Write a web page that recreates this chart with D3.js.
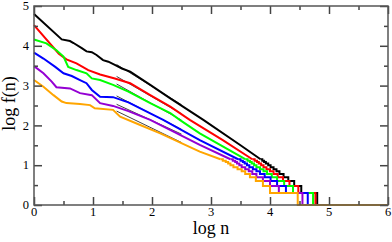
<!DOCTYPE html>
<meta charset="utf-8">
<script src="https://d3js.org/d3.v7.min.js"></script>
<style>
  body { margin: 0; background: #fff; }
  text { font-family: "Liberation Serif", serif; fill: #000; }
</style>
<div id="my_dataviz"></div>
<script>
// series colours (black, red, green, blue, violet, orange)
var colors = ["#000000", "#ff0000", "#00ff00", "#0000ff", "#9400d3", "#ffa500"];

// upper (smooth) part of each curve: [log n, log f(n)]
var headBlack  = [[0,4.80],[0.47,4.16],[0.61,4.12],[0.67,4.07],[0.81,3.94],[0.89,3.86],[0.98,3.84],[1.06,3.77],[1.17,3.64],[1.26,3.60],[1.37,3.52],[1.49,3.43],[1.63,3.35],[1.97,3.02],[2.31,2.68],[2.87,2.14],[3.50,1.50],[3.84,1.15]];
var headRed    = [[0,4.52],[0.42,3.80],[0.55,3.66],[0.72,3.56],[0.92,3.39],[1.12,3.28],[1.37,3.18],[1.63,3.06],[1.97,2.76],[2.31,2.47],[2.64,2.14],[3.20,1.63],[3.70,1.15]];
var headGreen  = [[0,4.16],[0.21,4.06],[0.38,3.89],[0.50,3.73],[0.58,3.47],[0.72,3.39],[0.89,3.31],[0.98,3.18],[1.12,3.14],[1.34,3.02],[1.60,2.85],[1.97,2.56],[2.31,2.31],[2.47,2.14],[2.81,1.80],[3.58,1.15]];
var headBlue   = [[0,3.83],[0.16,3.68],[0.36,3.47],[0.50,3.31],[0.64,3.24],[0.78,3.14],[0.89,3.06],[0.98,2.89],[1.12,2.72],[1.34,2.71],[1.60,2.58],[1.97,2.30],[2.19,2.14],[2.81,1.63],[3.46,1.15]];
var headViolet = [[0,3.49],[0.16,3.31],[0.30,3.10],[0.38,2.96],[0.61,2.93],[0.78,2.81],[0.98,2.76],[1.12,2.56],[1.34,2.49],[1.60,2.36],[1.97,2.14],[2.81,1.51],[3.33,1.15]];
var headOrange = [[0,3.14],[0.16,2.97],[0.33,2.76],[0.47,2.60],[0.55,2.56],[0.78,2.54],[0.95,2.51],[1.03,2.43],[1.34,2.39],[1.46,2.22],[1.80,2.01],[2.14,1.80],[2.81,1.34],[3.16,1.15]];

// staircase tail: levels of log f(n) and the log n where each level ends
var levels      = [1.15,1.11,1.08,1.04,1.00,0.95,0.90,0.85,0.78,0.70,0.60,0.48,0.30];
var dropsBlack  = [3.87,3.90,3.93,3.97,4.01,4.06,4.11,4.16,4.23,4.31,4.41,4.53,4.80];
var dropsRed    = [3.74,3.78,3.81,3.85,3.89,3.94,4.00,4.06,4.13,4.22,4.33,4.48,4.77];
var dropsGreen  = [3.62,3.66,3.69,3.73,3.77,3.83,3.89,3.95,4.03,4.12,4.24,4.39,4.73];
var dropsBlue   = [3.50,3.54,3.57,3.61,3.65,3.71,3.77,3.83,3.91,4.01,4.12,4.27,4.64];
var dropsViolet = [3.37,3.41,3.44,3.48,3.52,3.58,3.64,3.70,3.77,3.88,4.00,4.15,4.55];
var dropsOrange = [3.20,3.25,3.29,3.33,3.38,3.45,3.52,3.58,3.66,3.76,3.88,4.00,4.47];

// thin straight fit lines near the middle of each curve
var fits = [
  [[1.40,3.53],[2.50,2.52]],
  [[1.40,3.23],[2.50,2.29]],
  [[1.40,3.04],[2.50,2.13]],
  [[1.40,2.74],[2.50,1.90]],
  [[1.40,2.53],[2.50,1.78]],
  [[1.40,2.36],[2.50,1.57]]
];

var xTicks = [0,1,2,3,4,5,6];
var yTicks = [0,1,2,3,4,5];

var heads = [headBlack, headRed, headGreen, headBlue, headViolet, headOrange];
var drops = [dropsBlack, dropsRed, dropsGreen, dropsBlue, dropsViolet, dropsOrange];

var margin = {top: 6, right: 4, bottom: 37, left: 34},
    width = 392 - margin.left - margin.right,
    height = 242 - margin.top - margin.bottom;

var svg = d3.select("#my_dataviz")
  .append("svg")
    .attr("width", 392)
    .attr("height", 242)
  .append("g")
    .attr("transform", "translate(" + margin.left + "," + margin.top + ")");

var x = d3.scaleLinear().domain([0, 6]).range([0, width]);
var y = d3.scaleLinear().domain([0, 5]).range([height, 0]);

var lineLin = d3.line().x(function(d) { return x(d[0]) }).y(function(d) { return y(d[1]) });
var lineStep = d3.line().curve(d3.curveStepAfter)
  .x(function(d) { return x(d[0]) }).y(function(d) { return y(d[1]) });

// fit lines
fits.forEach(function(f) {
  svg.append("path").attr("d", lineLin(f))
    .attr("fill", "none").attr("stroke", "#444").attr("stroke-width", 1);
});

heads.forEach(function(h, i) {
  var last = h[h.length - 1];
  var tail = [[last[0], levels[0]]];
  drops[i].forEach(function(dx, k) {
    tail.push([dx, k + 1 < levels.length ? levels[k + 1] : 0]);
  });
  tail.push([6, 0]);
  svg.append("path").attr("d", lineLin(h))
    .attr("fill", "none").attr("stroke", colors[i]).attr("stroke-width", 2);
  svg.append("path").attr("d", lineStep(tail))
    .attr("fill", "none").attr("stroke", colors[i]).attr("stroke-width", 2);
});

// axes on all four sides, ticks inward
function styleAxis(g) {
  g.select(".domain").remove();
  g.selectAll("line").attr("stroke", "#444").attr("stroke-width", 1.5);
}
var xMinor = d3.range(0.5, 6, 1);
var yMinor = d3.range(0.5, 5, 1);

svg.append("g").attr("transform", "translate(0," + height + ")")
  .call(d3.axisBottom(x).tickValues(xTicks).tickSize(-8).tickFormat(""))
  .call(styleAxis);
svg.append("g").attr("transform", "translate(0," + height + ")")
  .call(d3.axisBottom(x).tickValues(xMinor).tickSize(-4).tickFormat(""))
  .call(styleAxis);
svg.append("g")
  .call(d3.axisTop(x).tickValues(xTicks).tickSize(-8).tickFormat(""))
  .call(styleAxis);
svg.append("g")
  .call(d3.axisTop(x).tickValues(xMinor).tickSize(-4).tickFormat(""))
  .call(styleAxis);
svg.append("g")
  .call(d3.axisLeft(y).tickValues(yTicks).tickSize(-8).tickFormat(""))
  .call(styleAxis);
svg.append("g")
  .call(d3.axisLeft(y).tickValues(yMinor).tickSize(-4).tickFormat(""))
  .call(styleAxis);
svg.append("g").attr("transform", "translate(" + width + ",0)")
  .call(d3.axisRight(y).tickValues(yTicks).tickSize(-8).tickFormat(""))
  .call(styleAxis);
svg.append("g").attr("transform", "translate(" + width + ",0)")
  .call(d3.axisRight(y).tickValues(yMinor).tickSize(-4).tickFormat(""))
  .call(styleAxis);

svg.append("rect")
  .attr("x", 0).attr("y", 0).attr("width", width).attr("height", height)
  .attr("fill", "none").attr("stroke", "#555").attr("stroke-width", 1.5);

// tick labels
svg.selectAll(".xl").data(xTicks).enter().append("text")
  .attr("x", function(d) { return x(d) }).attr("y", height + 11)
  .attr("text-anchor", "middle").style("font-size", "12.5px").text(function(d) { return d });
svg.selectAll(".yl").data(yTicks).enter().append("text")
  .attr("x", -5).attr("y", function(d) { return y(d) }).attr("dy", "0.33em")
  .attr("text-anchor", "end").style("font-size", "12.5px").text(function(d) { return d });

// axis titles
svg.append("text").attr("x", width / 2).attr("y", height + 29)
  .attr("text-anchor", "middle").style("font-size", "18px").text("log n");
svg.append("text").attr("transform", "translate(-19," + (height / 2 - 2) + ") rotate(-90)")
  .attr("text-anchor", "middle").style("font-size", "18px").text("log f(n)");
</script>
